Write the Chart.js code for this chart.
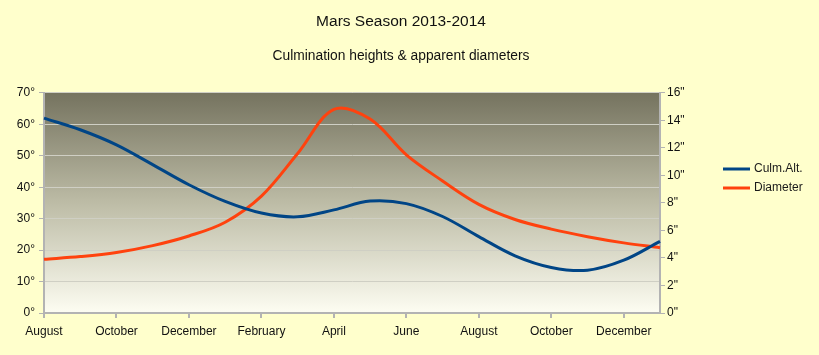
<!DOCTYPE html>
<html>
<head>
<meta charset="utf-8">
<script src="https://cdn.jsdelivr.net/npm/chart.js@4.4.1/dist/chart.umd.min.js"></script>
<style>
html,body{margin:0;padding:0;background:#ffffcc;}
#wrap{width:819px;height:355px;position:relative;}
</style>
</head>
<body>
<div id="wrap"><canvas id="c" width="819" height="355"></canvas></div>
<script>
const months = ["August","September","October","November","December","January","February","March","April","May","June","July","August","September","October","November","December","January"];
const culmAlt = [62.0, 58.3, 53.5, 47.2, 40.8, 35.5, 31.8, 30.6, 32.8, 35.6, 34.8, 30.7, 24.3, 18.2, 14.5, 13.6, 16.8, 22.8];
const diameter = [3.9, 4.1, 4.4, 4.9, 5.6, 6.6, 8.5, 11.6, 14.8, 14.1, 11.5, 9.6, 7.9, 6.8, 6.1, 5.55, 5.1, 4.75];
const altTicks = [0,10,20,30,40,50,60,70];
const diaTicks = [0,2,4,6,8,10,12,14,16];
const seriesNames = ["Culm.Alt.","Diameter"];
const titleText = "Mars Season 2013-2014";
const subtitleText = "Culmination heights & apparent diameters";

const FONT = "'Liberation Sans', Arial, sans-serif";

const bgPlugin = {
  id: 'bgPlugin',
  beforeDraw(chart) {
    const ctx = chart.ctx;
    ctx.save();
    ctx.fillStyle = '#ffffcc';
    ctx.fillRect(0, 0, chart.width, chart.height);
    const a = chart.chartArea;
    const g = ctx.createLinearGradient(0, a.top, 0, a.bottom);
    g.addColorStop(0, '#75735f');
    g.addColorStop(0.5, '#bdbca6');
    g.addColorStop(1, '#fdfdf2');
    ctx.fillStyle = g;
    ctx.fillRect(a.left, a.top, a.right - a.left, a.bottom - a.top);
    ctx.restore();
  }
};

const legendPlugin = {
  id: 'customLegend',
  afterDraw(chart) {
    const ctx = chart.ctx;
    ctx.save();
    chart.data.datasets.forEach((ds, i) => {
      const y = 169 + i * 19;
      ctx.strokeStyle = ds.borderColor;
      ctx.lineWidth = 3;
      ctx.beginPath();
      ctx.moveTo(723, y);
      ctx.lineTo(750, y);
      ctx.stroke();
      ctx.fillStyle = '#1a1a1a';
      ctx.font = "12px " + FONT;
      ctx.textBaseline = 'middle';
      ctx.textAlign = 'left';
      ctx.fillText(ds.label, 754, y);
    });
    ctx.restore();
  }
};

new Chart(document.getElementById('c'), {
  type: 'line',
  data: {
    labels: months,
    datasets: [
      { label: seriesNames[0], data: culmAlt, yAxisID: 'yAlt', borderColor: '#004586', borderWidth: 3, pointRadius: 0, tension: 0.35, fill: false },
      { label: seriesNames[1], data: diameter, yAxisID: 'yDia', borderColor: '#ff420e', borderWidth: 3, pointRadius: 0, tension: 0.35, fill: false }
    ]
  },
  options: {
    responsive: false,
    animation: false,
    devicePixelRatio: 1,
    layout: { padding: { left: 0, right: 17, top: 0, bottom: 0 } },
    plugins: {
      legend: { display: false },
      tooltip: { enabled: false },
      title: {
        display: true, text: titleText, color: '#111',
        font: { family: FONT, size: 15.5, weight: 'normal' },
        padding: { top: 12.5, bottom: 8 }
      },
      subtitle: {
        display: true, text: subtitleText, color: '#111',
        font: { family: FONT, size: 13.8, weight: 'normal' },
        padding: { top: 8.4, bottom: 28.9 }
      }
    },
    scales: {
      x: {
        type: 'category',
        offset: false,
        grid: {
          drawOnChartArea: false, drawTicks: true, tickLength: 5,
          tickColor: (c) => (c.index % 2 === 0 ? '#b3b3b3' : 'rgba(0,0,0,0)'),
          lineWidth: 2
        },
        border: { color: '#b3b3b3', width: 2 },
        ticks: {
          autoSkip: false, maxRotation: 0, minRotation: 0, padding: 6,
          color: '#111', font: { family: FONT, size: 12 },
          callback: function(v, i) { return i % 2 === 0 ? months[i] : ''; }
        },
        afterFit(s) { s.height = 42; }
      },
      yAlt: {
        position: 'left', min: 0, max: 70,
        afterBuildTicks(s) { s.ticks = altTicks.map(v => ({ value: v })); },
        grid: { color: '#cfcfc4', lineWidth: 1, tickLength: 5, tickColor: '#b3b3b3' },
        border: { color: '#b3b3b3', width: 2 },
        ticks: { padding: 4, color: '#111', font: { family: FONT, size: 12 }, callback: v => v + '°' },
        afterFit(s) { s.width = 44; }
      },
      yDia: {
        position: 'right', min: 0, max: 16,
        afterBuildTicks(s) { s.ticks = diaTicks.map(v => ({ value: v })); },
        grid: { drawOnChartArea: false, tickLength: 5, tickColor: '#b3b3b3' },
        border: { color: '#b3b3b3', width: 2 },
        ticks: { padding: 2, color: '#111', font: { family: FONT, size: 12 }, callback: v => v + '"' },
        afterFit(s) { s.width = 142; }
      }
    }
  },
  plugins: [bgPlugin, legendPlugin]
});
</script>
</body>
</html>
